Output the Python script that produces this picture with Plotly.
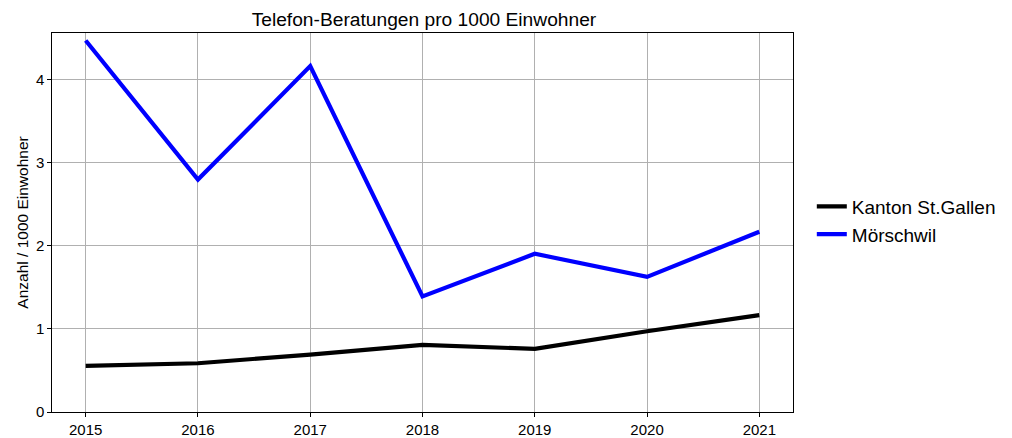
import plotly.graph_objects as go

years = [2015, 2016, 2017, 2018, 2019, 2020, 2021]
kanton = [0.555, 0.587, 0.692, 0.808, 0.760, 0.973, 1.166]
moerschwil = [4.475, 2.800, 4.166, 1.392, 1.906, 1.628, 2.171]
y_ticks = [0, 1, 2, 3, 4]

FONT = "Liberation Sans, Arial, sans-serif"
GRID = "#b0b0b0"

fig = go.Figure()
fig.add_trace(go.Scatter(x=years, y=kanton, mode="lines", name="Kanton St.Gallen",
                         line=dict(color="black", width=4.2)))
fig.add_trace(go.Scatter(x=years, y=moerschwil, mode="lines", name="Mörschwil",
                         line=dict(color="blue", width=4.2)))

axis_common = dict(
    showline=True, linecolor="black", linewidth=1.2, mirror=True,
    ticks="outside", ticklen=3.5, tickcolor="black", tickwidth=1,
    showgrid=True, gridcolor=GRID, gridwidth=1, zeroline=False,
    tickfont=dict(size=15, color="black"), automargin=False,
)

# the page body adds an 8px offset, so the figure is 8px smaller to fit the window
fig.update_layout(
    width=1004, height=430,
    paper_bgcolor="white", plot_bgcolor="white",
    font=dict(family=FONT, color="black"),
    margin=dict(l=44, r=218, t=25, b=26),
    title=dict(text="Telefon-Beratungen pro 1000 Einwohner", x=0.4143, xanchor="center",
               y=0.9744, yanchor="middle", font=dict(size=19.2, color="black")),
    xaxis=dict(range=[2014.7, 2021.3], tickvals=years, **axis_common),
    yaxis=dict(range=[0, 4.565], tickvals=y_ticks,
               title=dict(text="Anzahl / 1000 Einwohner", font=dict(size=15.5), standoff=3),
               **axis_common),
    legend=dict(x=1.024, xanchor="left", y=0.505, yanchor="middle",
                font=dict(size=19, color="black"), bgcolor="rgba(0,0,0,0)",
                tracegroupgap=0),
    showlegend=True,
)

fig.write_html("out.html")
